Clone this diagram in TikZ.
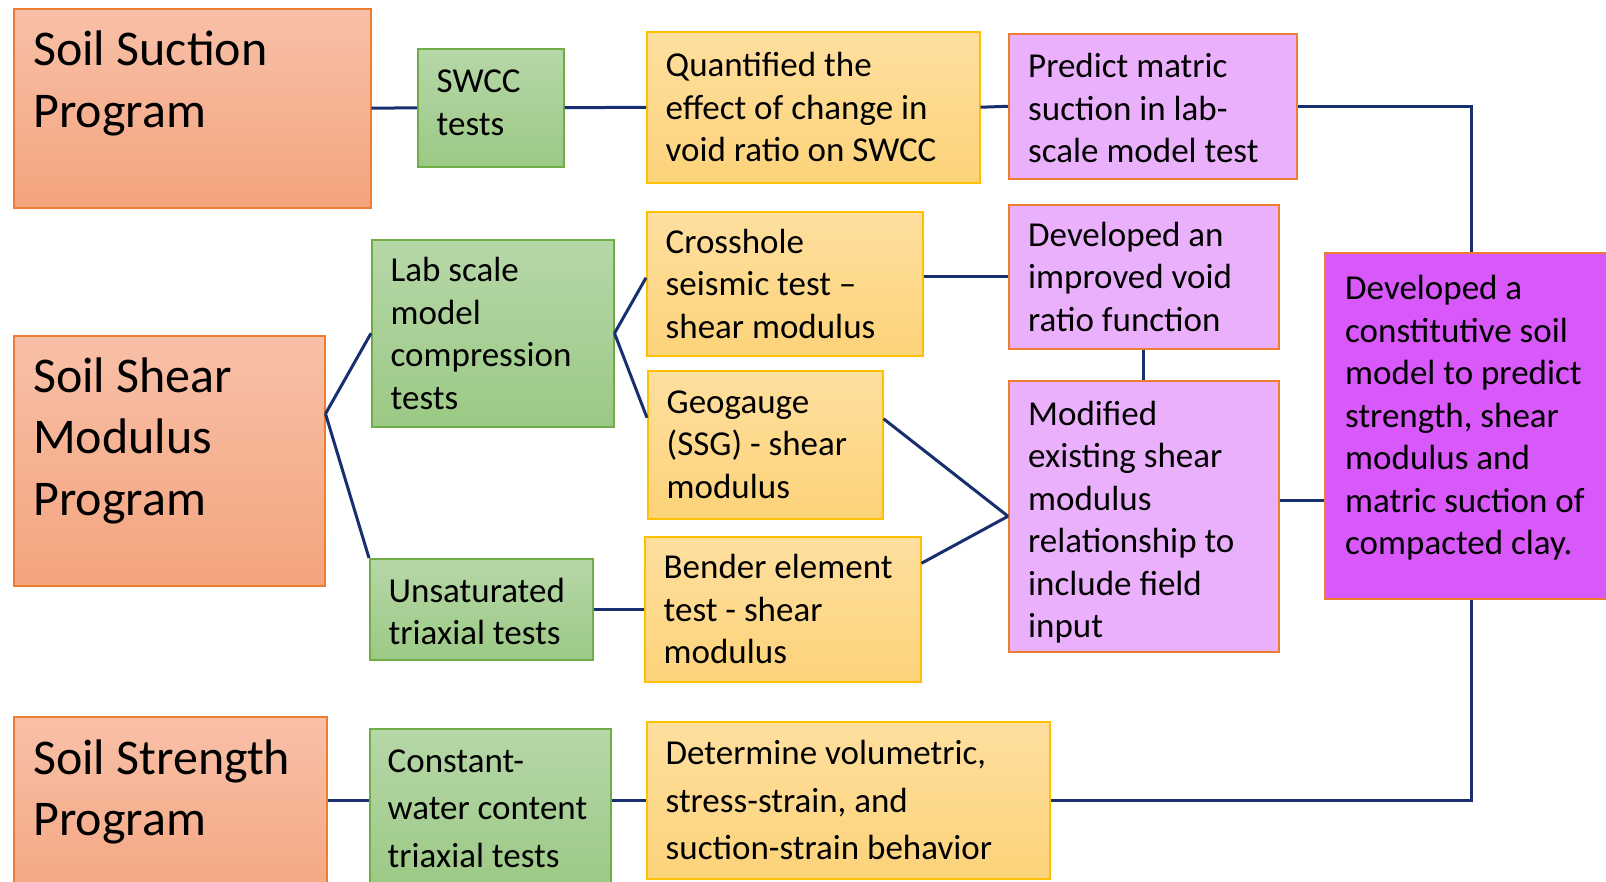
\documentclass[tikz,border=0pt]{standalone}
\usepackage{fontspec}
\setmainfont{Carlito}
\definecolor{progtop}{HTML}{F8C0A7}
\definecolor{progbot}{HTML}{F4A47E}
\definecolor{progline}{HTML}{ED7D31}
\definecolor{testtop}{HTML}{B6D7A8}
\definecolor{testbot}{HTML}{9CC985}
\definecolor{testline}{HTML}{70AD47}
\definecolor{restop}{HTML}{FEDF9F}
\definecolor{resbot}{HTML}{FDD37A}
\definecolor{resline}{HTML}{FFC000}
\definecolor{lilac}{HTML}{EBB0FC}
\definecolor{goalfill}{HTML}{D858F9}
\definecolor{linkblue}{HTML}{172F6E}
\tikzset{
  box/.style={anchor=north west, inner sep=0pt, line width=1.5pt},
  prog/.style={box, draw=progline, top color=progtop, bottom color=progbot},
  test/.style={box, draw=testline, top color=testtop, bottom color=testbot},
  res/.style={box, draw=resline, top color=restop, bottom color=resbot},
  find/.style={box, draw=progline, fill=lilac},
  goal/.style={box, draw=progline, fill=goalfill},
  big/.style={anchor=base west, inner sep=0pt, font=\fontsize{50}{61.5}\selectfont},
  txt/.style={anchor=west, inner sep=0pt, align=left, font=\fontsize{35}{42.5}\selectfont},
  link/.style={draw=linkblue, line width=3pt}
}
\begin{document}
\begin{tikzpicture}[x=1pt,y=-1pt]
\useasboundingbox (0,0) rectangle (1606,881);
\clip (0,0) rectangle (1606,881);
% programs
\node[prog, minimum width=357pt, minimum height=199pt] (suction) at (13,8) {};
\node[prog, minimum width=311pt, minimum height=250pt] (shear) at (13,335) {};
\node[prog, minimum width=313pt, minimum height=200pt] (strength) at (13,716) {};
\node[big] (suction-t) at ([shift={(20pt,-57.5pt)}]suction.north west) {\parbox[t]{320pt}{Soil Suction\\Program}};
\node[big] (shear-t) at ([shift={(20pt,-57pt)}]shear.north west) {\parbox[t]{290pt}{Soil Shear\\Modulus\\Program}};
\node[big] (strength-t) at ([shift={(20pt,-58pt)}]strength.north west) {\parbox[t]{290pt}{Soil Strength\\Program}};
% tests
\node[test, minimum width=146pt, minimum height=118pt] (swcc) at (417,48) {};
\node[test, minimum width=242pt, minimum height=187pt] (labscale) at (371,239) {};
\node[test, minimum width=223pt, minimum height=101pt] (unsat) at (369,558) {};
\node[test, minimum width=241pt, minimum height=160pt] (constw) at (369,728) {};
\node[txt] (swcc-t) at ([shift={(19.5pt,5pt)}]swcc.west) {SWCC\\tests};
\node[txt] (labscale-t) at ([xshift=19.5pt]labscale.west) {Lab scale\\model\\compression\\tests};
\node[txt] (unsat-t) at ([shift={(19.5pt,-2pt)}]unsat.west) {Unsaturated\\triaxial tests};
\node[txt, font=\fontsize{35}{47.5}\selectfont] (constw-t) at ([xshift=18.5pt]constw.west) {Constant-\\water content\\triaxial tests};
% results
\node[res, minimum width=333pt, minimum height=151pt] (quant) at (646,31) {};
\node[res, minimum width=276pt, minimum height=144pt] (cross) at (646,211) {};
\node[res, minimum width=235pt, minimum height=148pt] (geo) at (647,370) {};
\node[res, minimum width=276pt, minimum height=145pt] (bender) at (644,536) {};
\node[res, minimum width=403pt, minimum height=157pt] (determ) at (646,721) {};
\node[txt] (quant-t) at ([xshift=19.5pt]quant.west) {Quantified the\\effect of change in\\void ratio on SWCC};
\node[txt] (cross-t) at ([xshift=19.5pt]cross.west) {Crosshole\\seismic test --\\shear modulus};
\node[txt] (geo-t) at ([xshift=19.5pt]geo.west) {Geogauge\\(SSG) - shear\\modulus};
\node[txt] (bender-t) at ([xshift=19.5pt]bender.west) {Bender element\\test - shear\\modulus};
\node[txt, font=\fontsize{35}{47.5}\selectfont] (determ-t) at ([xshift=19.5pt]determ.west) {Determine volumetric,\\stress-strain, and\\suction-strain behavior};
% findings
\node[find, minimum width=288pt, minimum height=145pt] (predict) at (1008,33) {};
\node[find, minimum width=270pt, minimum height=144pt] (improved) at (1008,204) {};
\node[find, minimum width=270pt, minimum height=271pt] (modified) at (1008,380) {};
\node[goal, minimum width=294pt, minimum height=346pt] (const) at (1324,252) {};
\node[txt] (predict-t) at ([shift={(20pt,-2pt)}]predict.west) {Predict matric\\suction in lab-\\scale model test};
\node[txt] (improved-t) at ([xshift=20pt]improved.west) {Developed an\\improved void\\ratio function};
\node[txt] (modified-t) at ([shift={(20pt,-6pt)}]modified.west) {Modified\\existing shear\\modulus\\relationship to\\include field\\input};
\node[txt] (const-t) at ([shift={(21pt,8pt)}]const.west) {Developed a\\constitutive soil\\model to predict\\strength, shear\\modulus and\\matric suction of\\compacted clay.};
% links
\draw[link] (suction.east) -- (swcc.west);
\draw[link] (swcc.east) -- (quant.west);
\draw[link] (quant.east) -- (predict.west);
\draw[link] (predict.east) -| (const.north);
\draw[link] ([yshift=47pt]shear.east) -- (labscale.west);
\draw[link] ([yshift=47pt]shear.east) -- (unsat.north west);
\draw[link] (labscale.east) -- ([yshift=6pt]cross.west);
\draw[link] (labscale.east) -- ([yshift=27pt]geo.west);
\draw[link] (improved.west -| cross.east) -- (improved.west);
\draw[link] (improved.south) -- (modified.north);
\draw[link] ([yshift=26pt]geo.east) -- (modified.west);
\draw[link] ([yshift=46pt]bender.east) -- (modified.west);
\draw[link] (unsat.east) -- (bender.west);
\draw[link] ([yshift=15.5pt]modified.east) -- ([yshift=15.5pt]modified.east -| const.west);
\draw[link] (strength.east |- determ.west) -- (constw.west |- determ.west);
\draw[link] (constw.east |- determ.west) -- (determ.west);
\draw[link] (determ.east) -| (const.south);
\end{tikzpicture}
\end{document}
